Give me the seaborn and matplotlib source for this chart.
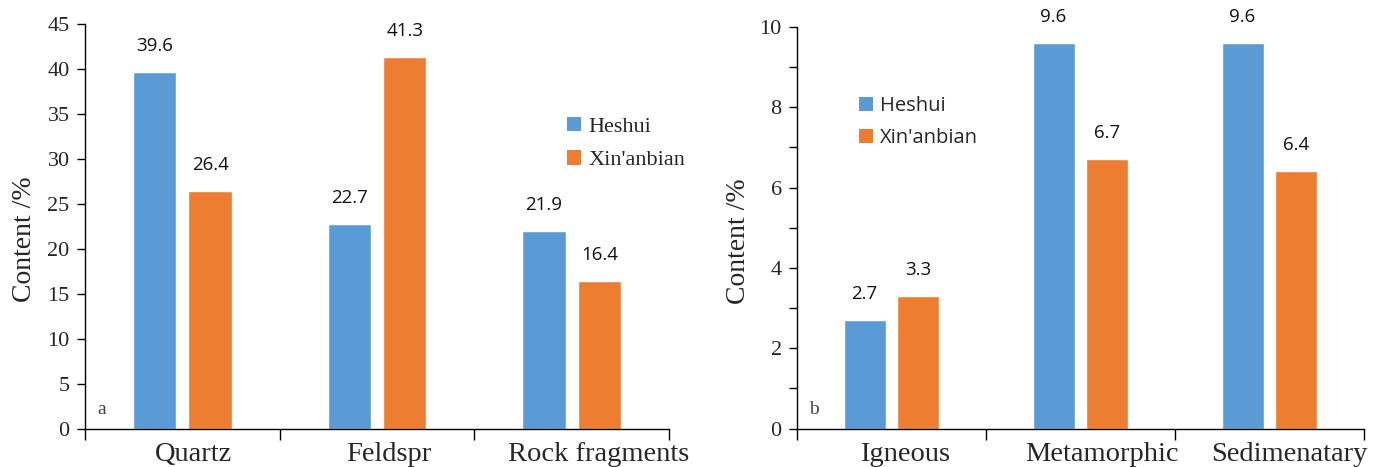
import matplotlib
matplotlib.use("Agg")
import matplotlib.pyplot as plt
from matplotlib.patches import Patch
from matplotlib.ticker import FixedLocator
import pandas as pd
import seaborn as sns

# Detrital composition (a) and rock-fragment types (b), in percent
sites = ["Heshui", "Xin'anbian"]
framework = ["Quartz", "Feldspr", "Rock fragments"]
framework_heshui = [39.6, 22.7, 21.9]
framework_xinanbian = [26.4, 41.3, 16.4]
fragments = ["Igneous", "Metamorphic", "Sedimenatary"]
fragments_heshui = [2.7, 9.6, 9.6]
fragments_xinanbian = [3.3, 6.7, 6.4]
ticks_a = [0, 5, 10, 15, 20, 25, 30, 35, 40, 45]
ticks_b = [0, 2, 4, 6, 8, 10]

colors = ["#5B9BD5", "#ED7D31"]

# horizontal nudge of each category name, in category widths
label_shift_a = [0.056, 0.062, 0.138]
label_shift_b = [0.069, 0.111, 0.106]

sns.set_style("ticks")
plt.rcParams["font.family"] = "serif"
plt.rcParams["font.serif"] = ["Liberation Serif", "DejaVu Serif"]
plt.rcParams["axes.linewidth"] = 1.0

SERIF = "Liberation Serif"
SANS = "Open Sans"


def to_frame(cats, a, b):
    return pd.DataFrame({
        "category": cats * 2,
        "content": a + b,
        "site": [sites[0]] * len(cats) + [sites[1]] * len(cats),
    })


fig = plt.figure(figsize=(13.89, 4.67), dpi=100)
ax_a = fig.add_axes([0.0612, 0.0824, 0.4204, 0.867])
ax_b = fig.add_axes([0.5738, 0.0824, 0.4082, 0.860])

panels = [
    (ax_a, to_frame(framework, framework_heshui, framework_xinanbian), framework,
     ticks_a, label_shift_a, "a"),
    (ax_b, to_frame(fragments, fragments_heshui, fragments_xinanbian), fragments,
     ticks_b, label_shift_b, "b"),
]

for ax, df, cats, yticks, shifts, tag in panels:
    sns.barplot(data=df, x="category", y="content", hue="site", order=cats,
                hue_order=sites, palette=colors, width=0.57, gap=0.22,
                errorbar=None, legend=False, saturation=1, ax=ax)
    for cont in ax.containers:
        ax.bar_label(cont, fmt="%.1f", padding=12.5, fontsize=13.5,
                     family=SANS, color="#111111")
    ax.set_xlim(-0.5, 2.5)
    ax.set_ylim(yticks[0], yticks[-1])
    ax.set_yticks(yticks, labels=[str(t) for t in yticks],
                  fontfamily=SERIF, fontsize=16)
    ax.spines[["top", "right"]].set_visible(False)
    ax.spines[["left", "bottom"]].set_color("black")
    ax.set_xlabel("")
    ax.set_ylabel("Content /%", fontsize=20, family=SERIF)
    ax.yaxis.set_label_coords(-0.082, 0.467)

    # category names under the groups (no mark), tick marks on the boundaries
    ax.set_xticks([i + s for i, s in enumerate(shifts)], labels=cats,
                  fontfamily=SERIF, fontsize=20.5)
    ax.xaxis.set_minor_locator(FixedLocator([-0.5, 0.5, 1.5, 2.5]))
    ax.tick_params(axis="x", which="major", length=0, pad=10)
    ax.tick_params(axis="x", which="minor", length=8, width=1.0,
                   direction="out", color="black")
    ax.tick_params(axis="y", which="both", length=6, width=1.0,
                   direction="out", color="black", pad=5)

    ax.text(0.022, 0.025, tag, transform=ax.transAxes, fontsize=14,
            family=SERIF, color="#444444", ha="left", va="bottom")

ax_b.yaxis.set_minor_locator(FixedLocator([1, 3, 5, 7, 9]))

handles = [Patch(facecolor=c, edgecolor="none", label=s) for c, s in zip(colors, sites)]

ax_a.legend(handles=handles, loc="upper left",
            bbox_to_anchor=(567 / 1389, 1 - 117 / 467), bbox_transform=fig.transFigure,
            frameon=False, borderpad=0, borderaxespad=0,
            handlelength=0.62, handleheight=0.62, handletextpad=0.36,
            labelspacing=0.6, prop={"family": SERIF, "size": 16})

ax_b.legend(handles=handles, loc="upper left",
            bbox_to_anchor=(859 / 1389, 1 - 96 / 467), bbox_transform=fig.transFigure,
            frameon=False, borderpad=0, borderaxespad=0,
            handlelength=0.7, handleheight=0.7, handletextpad=0.35,
            labelspacing=0.6, prop={"family": SANS, "size": 14.5})

fig.savefig("out.png", dpi=100)
